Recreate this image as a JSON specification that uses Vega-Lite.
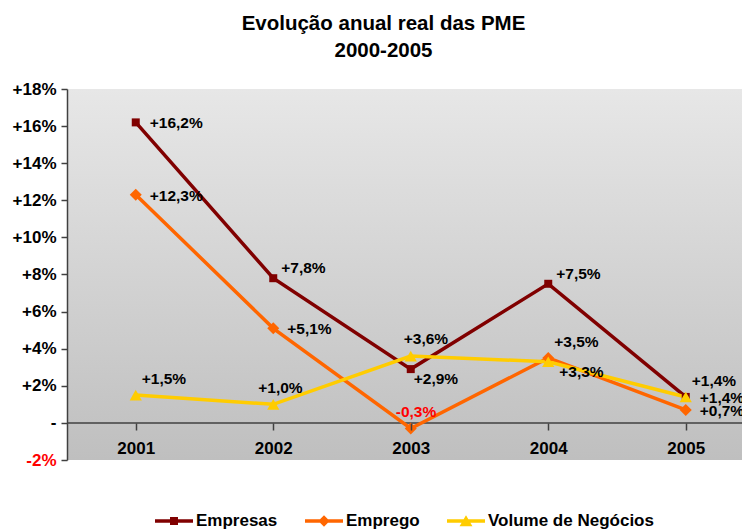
{
  "$schema": "https://vega.github.io/schema/vega-lite/v6.json",
  "width": 675,
  "height": 371,
  "autosize": {"type": "none"},
  "padding": {"left": 67, "top": 89, "right": 0, "bottom": 71},
  "background": "#ffffff",
  "title": {
    "text": ["Evolução anual real das PME", "2000-2005"],
    "font": "Liberation Sans",
    "fontSize": 20.5,
    "fontWeight": "bold",
    "color": "#000000",
    "anchor": "middle",
    "dx": -21,
    "offset": 19,
    "lineHeight": 27
  },
  "config": {
    "font": "Liberation Sans",
    "view": {"stroke": null},
    "locale": {
      "number": {"decimal": ",", "thousands": ".", "grouping": [3], "currency": ["", " €"], "minus": "-"}
    }
  },
  "data": {
    "values": [
      {"year": "2001", "s": "Empresas", "v": 0.162},
      {"year": "2002", "s": "Empresas", "v": 0.078},
      {"year": "2003", "s": "Empresas", "v": 0.029},
      {"year": "2004", "s": "Empresas", "v": 0.075},
      {"year": "2005", "s": "Empresas", "v": 0.014},
      {"year": "2001", "s": "Emprego", "v": 0.123},
      {"year": "2002", "s": "Emprego", "v": 0.051},
      {"year": "2003", "s": "Emprego", "v": -0.003},
      {"year": "2004", "s": "Emprego", "v": 0.035},
      {"year": "2005", "s": "Emprego", "v": 0.007},
      {"year": "2001", "s": "Volume de Negócios", "v": 0.015},
      {"year": "2002", "s": "Volume de Negócios", "v": 0.010},
      {"year": "2003", "s": "Volume de Negócios", "v": 0.036},
      {"year": "2004", "s": "Volume de Negócios", "v": 0.033},
      {"year": "2005", "s": "Volume de Negócios", "v": 0.014}
    ]
  },
  "resolve": {"axis": {"x": "independent", "y": "independent"}},
  "layer": [
    {
      "data": {"values": [{}]},
      "mark": {
        "type": "rect",
        "color": {
          "gradient": "linear", "x1": 0, "y1": 0, "x2": 0, "y2": 1,
          "stops": [{"offset": 0, "color": "#e7e7e7"}, {"offset": 1, "color": "#bfbfbf"}]
        }
      },
      "encoding": {}
    },
    {
      "data": {"values": [{}]},
      "mark": {"type": "rule", "color": "#404040", "strokeWidth": 1.5},
      "encoding": {
        "y": {
          "datum": 0, "type": "quantitative",
          "scale": {"domain": [-0.02, 0.18], "nice": false, "zero": false},
          "axis": {
            "orient": "left", "title": null, "grid": false, "values": [-0.02, 0.02, 0.06, 0.1, 0.14, 0.18],
            "labelOverlap": false, "labelBound": false, "labelFlush": false,
            "format": "+.0%",
            "labelColor": {"expr": "datum.value < 0 ? '#ff0000' : '#000000'"},
            "labelFont": "Liberation Sans", "labelFontSize": 17, "labelFontWeight": "bold",
            "labelPadding": 5, "tickSize": 6, "tickColor": "#404040", "tickWidth": 1.5,
            "domainColor": "#404040", "domainWidth": 1.5, "zindex": 1
          }
        }
      }
    },
    {
      "mark": {"type": "line", "strokeWidth": 3.5},
      "encoding": {
        "x": {
          "field": "year", "type": "ordinal",
          "scale": {"range": [0, 687.5], "paddingInner": 0, "paddingOuter": 0},
          "axis": {
            "orient": "bottom", "offset": -37, "zindex": 1, "title": null, "ticks": false, "tickSize": 0, "domain": false,
            "labelPadding": 17, "labelAngle": 0, "labelFont": "Liberation Sans", "labelFontSize": 17,
            "labelFontWeight": "bold", "labelColor": "#000000"
          }
        },
        "y": {
          "field": "v", "type": "quantitative",
          "axis": {
            "orient": "left", "title": null, "grid": false, "values": [0, 0.04, 0.08, 0.12, 0.16],
            "labelOverlap": false, "labelBound": false, "labelFlush": false, "domain": false,
            "format": "+.0%", "labelExpr": "datum.value == 0 ? '-' : datum.label",
            "labelColor": "#000000",
            "labelFont": "Liberation Sans", "labelFontSize": 17, "labelFontWeight": "bold",
            "labelPadding": 5, "tickSize": 6, "tickColor": "#404040", "tickWidth": 1.5, "zindex": 1
          }
        },
        "color": {
          "field": "s", "type": "nominal",
          "scale": {"domain": ["Empresas", "Emprego", "Volume de Negócios"], "range": ["#800000", "#ff6600", "#ffcc00"]},
          "legend": {
            "orient": "none", "legendX": 88, "legendY": 413, "direction": "horizontal", "title": null,
            "labelFont": "Liberation Sans", "labelFontSize": 17, "labelFontWeight": "bold", "labelColor": "#000000",
            "labelLimit": 400,
            "symbolSize": 1444, "labelOffset": 3, "columnPadding": 27, "padding": 0,
            "symbolType": {"expr": "datum.value === 'Empresas' ? 'M-1,-0.092H1V0.092H-1Z M-0.21,-0.21H0.21V0.21H-0.21Z' : datum.value === 'Emprego' ? 'M-1,-0.092H1V0.092H-1Z M0,-0.3L0.3,0L0,0.3L-0.3,0Z' : 'M-1,-0.092H1V0.092H-1Z M0,-0.3L0.34,0.28H-0.34Z'"},
            "symbolFillColor": {"expr": "datum.value === 'Empresas' ? '#800000' : datum.value === 'Emprego' ? '#ff6600' : '#ffcc00'"},
            "symbolStrokeWidth": 0,
            "symbolOpacity": 1
          }
        }
      }
    },
    {
      "transform": [{"filter": "datum.s === 'Empresas'"}],
      "mark": {"type": "point", "filled": true, "opacity": 1, "shape": "square", "size": 64, "color": "#800000"},
      "encoding": {
        "x": {
          "field": "year", "type": "ordinal",
          "axis": {
            "orient": "bottom", "offset": -37, "zindex": 1, "title": null, "labels": false, "domain": false, "bandPosition": 0,
            "ticks": true, "tickSize": 7, "tickColor": "#404040", "tickWidth": 1.5
          }
        },
        "y": {"field": "v", "type": "quantitative", "axis": null}
      }
    },
    {
      "transform": [{"filter": "datum.s === 'Emprego'"}],
      "mark": {"type": "point", "filled": true, "opacity": 1, "shape": "diamond", "size": 144, "color": "#ff6600"},
      "encoding": {
        "x": {"field": "year", "type": "ordinal", "axis": null},
        "y": {"field": "v", "type": "quantitative", "axis": null}
      }
    },
    {
      "transform": [{"filter": "datum.s === 'Volume de Negócios'"}],
      "mark": {"type": "point", "filled": true, "opacity": 1, "shape": "triangle-up", "size": 150, "color": "#ffcc00"},
      "encoding": {
        "x": {"field": "year", "type": "ordinal", "axis": null},
        "y": {"field": "v", "type": "quantitative", "axis": null}
      }
    },
    {
      "transform": [{"filter": "indexof(['Empresas2001','Emprego2001','Emprego2002','Emprego2005','Volume de Negócios2005'], datum.s + datum.year) >= 0"}],
      "mark": {"type": "text", "align": "left", "baseline": "middle", "dx": 14, "dy": 1, "font": "Liberation Sans", "fontSize": 15.5, "fontWeight": "bold"},
      "encoding": {
        "x": {"field": "year", "type": "ordinal", "axis": null},
        "y": {"field": "v", "type": "quantitative", "axis": null},
        "text": {"field": "v", "type": "quantitative", "format": "+.1%"},
        "color": {"condition": {"test": "datum.v < 0", "value": "#ff0000"}, "value": "#000000"}
      }
    },
    {
      "transform": [{"filter": "indexof(['Empresas2002','Empresas2004'], datum.s + datum.year) >= 0"}],
      "mark": {"type": "text", "align": "left", "baseline": "middle", "dx": 8, "dy": -10, "font": "Liberation Sans", "fontSize": 15.5, "fontWeight": "bold"},
      "encoding": {
        "x": {"field": "year", "type": "ordinal", "axis": null},
        "y": {"field": "v", "type": "quantitative", "axis": null},
        "text": {"field": "v", "type": "quantitative", "format": "+.1%"},
        "color": {"condition": {"test": "datum.v < 0", "value": "#ff0000"}, "value": "#000000"}
      }
    },
    {
      "transform": [{"filter": "indexof(['Empresas2005','Emprego2004','Volume de Negócios2001'], datum.s + datum.year) >= 0"}],
      "mark": {"type": "text", "align": "left", "baseline": "middle", "dx": 6, "dy": -16, "font": "Liberation Sans", "fontSize": 15.5, "fontWeight": "bold"},
      "encoding": {
        "x": {"field": "year", "type": "ordinal", "axis": null},
        "y": {"field": "v", "type": "quantitative", "axis": null},
        "text": {"field": "v", "type": "quantitative", "format": "+.1%"},
        "color": {"condition": {"test": "datum.v < 0", "value": "#ff0000"}, "value": "#000000"}
      }
    },
    {
      "transform": [{"filter": "indexof(['Volume de Negócios2003'], datum.s + datum.year) >= 0"}],
      "mark": {"type": "text", "align": "left", "baseline": "middle", "dx": -7, "dy": -17, "font": "Liberation Sans", "fontSize": 15.5, "fontWeight": "bold"},
      "encoding": {
        "x": {"field": "year", "type": "ordinal", "axis": null},
        "y": {"field": "v", "type": "quantitative", "axis": null},
        "text": {"field": "v", "type": "quantitative", "format": "+.1%"},
        "color": {"condition": {"test": "datum.v < 0", "value": "#ff0000"}, "value": "#000000"}
      }
    },
    {
      "transform": [{"filter": "indexof(['Volume de Negócios2002','Emprego2003'], datum.s + datum.year) >= 0"}],
      "mark": {"type": "text", "align": "left", "baseline": "middle", "dx": -15, "dy": -16, "font": "Liberation Sans", "fontSize": 15.5, "fontWeight": "bold"},
      "encoding": {
        "x": {"field": "year", "type": "ordinal", "axis": null},
        "y": {"field": "v", "type": "quantitative", "axis": null},
        "text": {"field": "v", "type": "quantitative", "format": "+.1%"},
        "color": {"condition": {"test": "datum.v < 0", "value": "#ff0000"}, "value": "#000000"}
      }
    },
    {
      "transform": [{"filter": "indexof(['Empresas2003'], datum.s + datum.year) >= 0"}],
      "mark": {"type": "text", "align": "left", "baseline": "middle", "dx": 3, "dy": 10, "font": "Liberation Sans", "fontSize": 15.5, "fontWeight": "bold"},
      "encoding": {
        "x": {"field": "year", "type": "ordinal", "axis": null},
        "y": {"field": "v", "type": "quantitative", "axis": null},
        "text": {"field": "v", "type": "quantitative", "format": "+.1%"},
        "color": {"condition": {"test": "datum.v < 0", "value": "#ff0000"}, "value": "#000000"}
      }
    },
    {
      "transform": [{"filter": "indexof(['Volume de Negócios2004'], datum.s + datum.year) >= 0"}],
      "mark": {"type": "text", "align": "left", "baseline": "middle", "dx": 11, "dy": 10, "font": "Liberation Sans", "fontSize": 15.5, "fontWeight": "bold"},
      "encoding": {
        "x": {"field": "year", "type": "ordinal", "axis": null},
        "y": {"field": "v", "type": "quantitative", "axis": null},
        "text": {"field": "v", "type": "quantitative", "format": "+.1%"},
        "color": {"condition": {"test": "datum.v < 0", "value": "#ff0000"}, "value": "#000000"}
      }
    }
  ]
}
